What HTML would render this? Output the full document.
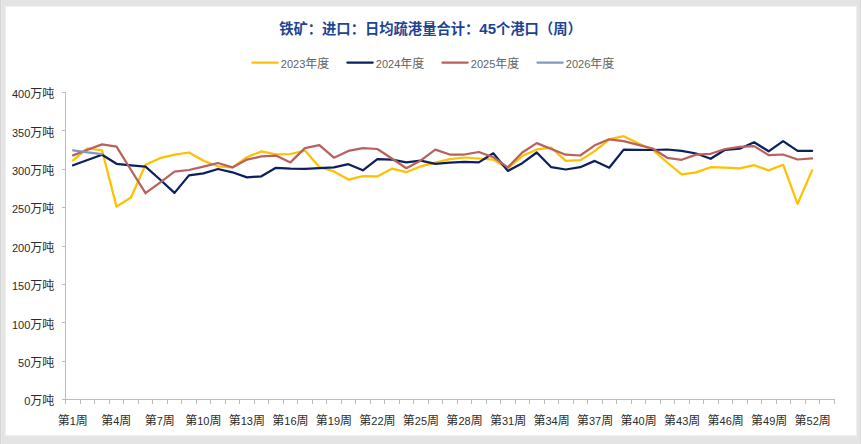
<!DOCTYPE html>
<html><head><meta charset="utf-8"><style>
html,body{margin:0;padding:0;background:#e4e4e4;}
body{width:861px;height:444px;overflow:hidden;position:relative;}
.panel{position:absolute;left:6px;top:7px;width:850px;height:428px;background:#fff;box-shadow:0 0 0 1px rgba(255,255,255,0.45);}
.el{position:absolute;left:0;top:0;width:1px;height:444px;background:#d6d6d6;}
.el2{position:absolute;left:1px;top:0;width:1px;height:444px;background:#e8e8e8;}
.er{position:absolute;left:860px;top:0;width:1px;height:444px;background:#dadada;}
svg{position:absolute;left:0;top:0;}
text{font-family:"Liberation Sans","Noto Sans CJK SC",sans-serif;font-size:10.7px;}
.d{font-size:11px;}
.c{font-size:12px;}
.t{font-size:14.3px;font-weight:bold;fill:#1c4493;}
</style></head><body>
<div class="el"></div><div class="el2"></div><div class="er"></div>
<div class="panel"></div>
<svg width="861" height="444" viewBox="0 0 861 444">
<text class="t" x="279.2" y="34.0">铁矿：进口：日均疏港量合计：<tspan style="font-size:15px">45</tspan>个港口（周）</text>
<line x1="252.4" y1="62.6" x2="277.7" y2="62.6" stroke="#FFC000" stroke-width="2.25" stroke-linecap="round"/><text x="280.8" y="67.8" fill="#636363"><tspan class="d">2023</tspan><tspan class="c">年度</tspan></text><line x1="347.4" y1="62.6" x2="372.7" y2="62.6" stroke="#0C1F5E" stroke-width="2.25" stroke-linecap="round"/><text x="375.79999999999995" y="67.8" fill="#636363"><tspan class="d">2024</tspan><tspan class="c">年度</tspan></text><line x1="442.4" y1="62.6" x2="467.7" y2="62.6" stroke="#B8615F" stroke-width="2.25" stroke-linecap="round"/><text x="470.79999999999995" y="67.8" fill="#636363"><tspan class="d">2025</tspan><tspan class="c">年度</tspan></text><line x1="537.4" y1="62.6" x2="562.6999999999999" y2="62.6" stroke="#8199C1" stroke-width="2.25" stroke-linecap="round"/><text x="565.8" y="67.8" fill="#636363"><tspan class="d">2026</tspan><tspan class="c">年度</tspan></text>
<g stroke="#bcbcbc" stroke-width="1" shape-rendering="crispEdges"><line x1="65.5" y1="92" x2="65.5" y2="400"/><line x1="65" y1="399.5" x2="835.0" y2="399.5"/><line x1="61.5" y1="399.5" x2="65.5" y2="399.5"/><line x1="61.5" y1="361.5" x2="65.5" y2="361.5"/><line x1="61.5" y1="322.5" x2="65.5" y2="322.5"/><line x1="61.5" y1="284.5" x2="65.5" y2="284.5"/><line x1="61.5" y1="246.5" x2="65.5" y2="246.5"/><line x1="61.5" y1="207.5" x2="65.5" y2="207.5"/><line x1="61.5" y1="169.5" x2="65.5" y2="169.5"/><line x1="61.5" y1="130.5" x2="65.5" y2="130.5"/><line x1="61.5" y1="92.5" x2="65.5" y2="92.5"/><line x1="65.50" y1="399.5" x2="65.50" y2="404"/><line x1="80.01" y1="399.5" x2="80.01" y2="404"/><line x1="94.52" y1="399.5" x2="94.52" y2="404"/><line x1="109.03" y1="399.5" x2="109.03" y2="404"/><line x1="123.54" y1="399.5" x2="123.54" y2="404"/><line x1="138.05" y1="399.5" x2="138.05" y2="404"/><line x1="152.56" y1="399.5" x2="152.56" y2="404"/><line x1="167.07" y1="399.5" x2="167.07" y2="404"/><line x1="181.58" y1="399.5" x2="181.58" y2="404"/><line x1="196.08" y1="399.5" x2="196.08" y2="404"/><line x1="210.59" y1="399.5" x2="210.59" y2="404"/><line x1="225.10" y1="399.5" x2="225.10" y2="404"/><line x1="239.61" y1="399.5" x2="239.61" y2="404"/><line x1="254.12" y1="399.5" x2="254.12" y2="404"/><line x1="268.63" y1="399.5" x2="268.63" y2="404"/><line x1="283.14" y1="399.5" x2="283.14" y2="404"/><line x1="297.65" y1="399.5" x2="297.65" y2="404"/><line x1="312.16" y1="399.5" x2="312.16" y2="404"/><line x1="326.67" y1="399.5" x2="326.67" y2="404"/><line x1="341.18" y1="399.5" x2="341.18" y2="404"/><line x1="355.69" y1="399.5" x2="355.69" y2="404"/><line x1="370.20" y1="399.5" x2="370.20" y2="404"/><line x1="384.71" y1="399.5" x2="384.71" y2="404"/><line x1="399.22" y1="399.5" x2="399.22" y2="404"/><line x1="413.73" y1="399.5" x2="413.73" y2="404"/><line x1="428.24" y1="399.5" x2="428.24" y2="404"/><line x1="442.75" y1="399.5" x2="442.75" y2="404"/><line x1="457.25" y1="399.5" x2="457.25" y2="404"/><line x1="471.76" y1="399.5" x2="471.76" y2="404"/><line x1="486.27" y1="399.5" x2="486.27" y2="404"/><line x1="500.78" y1="399.5" x2="500.78" y2="404"/><line x1="515.29" y1="399.5" x2="515.29" y2="404"/><line x1="529.80" y1="399.5" x2="529.80" y2="404"/><line x1="544.31" y1="399.5" x2="544.31" y2="404"/><line x1="558.82" y1="399.5" x2="558.82" y2="404"/><line x1="573.33" y1="399.5" x2="573.33" y2="404"/><line x1="587.84" y1="399.5" x2="587.84" y2="404"/><line x1="602.35" y1="399.5" x2="602.35" y2="404"/><line x1="616.86" y1="399.5" x2="616.86" y2="404"/><line x1="631.37" y1="399.5" x2="631.37" y2="404"/><line x1="645.88" y1="399.5" x2="645.88" y2="404"/><line x1="660.39" y1="399.5" x2="660.39" y2="404"/><line x1="674.90" y1="399.5" x2="674.90" y2="404"/><line x1="689.41" y1="399.5" x2="689.41" y2="404"/><line x1="703.92" y1="399.5" x2="703.92" y2="404"/><line x1="718.42" y1="399.5" x2="718.42" y2="404"/><line x1="732.93" y1="399.5" x2="732.93" y2="404"/><line x1="747.44" y1="399.5" x2="747.44" y2="404"/><line x1="761.95" y1="399.5" x2="761.95" y2="404"/><line x1="776.46" y1="399.5" x2="776.46" y2="404"/><line x1="790.97" y1="399.5" x2="790.97" y2="404"/><line x1="805.48" y1="399.5" x2="805.48" y2="404"/><line x1="819.99" y1="399.5" x2="819.99" y2="404"/><line x1="834.50" y1="399.5" x2="834.50" y2="404"/></g>
<g fill="#2b2b2b"><text x="54.3" y="405.3" text-anchor="end"><tspan class="d">0</tspan><tspan class="c">万吨</tspan></text><text x="54.3" y="366.9" text-anchor="end"><tspan class="d">50</tspan><tspan class="c">万吨</tspan></text><text x="54.3" y="328.6" text-anchor="end"><tspan class="d">100</tspan><tspan class="c">万吨</tspan></text><text x="54.3" y="290.2" text-anchor="end"><tspan class="d">150</tspan><tspan class="c">万吨</tspan></text><text x="54.3" y="251.8" text-anchor="end"><tspan class="d">200</tspan><tspan class="c">万吨</tspan></text><text x="54.3" y="213.4" text-anchor="end"><tspan class="d">250</tspan><tspan class="c">万吨</tspan></text><text x="54.3" y="175.1" text-anchor="end"><tspan class="d">300</tspan><tspan class="c">万吨</tspan></text><text x="54.3" y="136.7" text-anchor="end"><tspan class="d">350</tspan><tspan class="c">万吨</tspan></text><text x="54.3" y="98.3" text-anchor="end"><tspan class="d">400</tspan><tspan class="c">万吨</tspan></text><text x="72.75" y="425.1" text-anchor="middle"><tspan class="c">第</tspan><tspan class="d">1</tspan><tspan class="c">周</tspan></text><text x="116.28" y="425.1" text-anchor="middle"><tspan class="c">第</tspan><tspan class="d">4</tspan><tspan class="c">周</tspan></text><text x="159.81" y="425.1" text-anchor="middle"><tspan class="c">第</tspan><tspan class="d">7</tspan><tspan class="c">周</tspan></text><text x="203.34" y="425.1" text-anchor="middle"><tspan class="c">第</tspan><tspan class="d">10</tspan><tspan class="c">周</tspan></text><text x="246.87" y="425.1" text-anchor="middle"><tspan class="c">第</tspan><tspan class="d">13</tspan><tspan class="c">周</tspan></text><text x="290.40" y="425.1" text-anchor="middle"><tspan class="c">第</tspan><tspan class="d">16</tspan><tspan class="c">周</tspan></text><text x="333.92" y="425.1" text-anchor="middle"><tspan class="c">第</tspan><tspan class="d">19</tspan><tspan class="c">周</tspan></text><text x="377.45" y="425.1" text-anchor="middle"><tspan class="c">第</tspan><tspan class="d">22</tspan><tspan class="c">周</tspan></text><text x="420.98" y="425.1" text-anchor="middle"><tspan class="c">第</tspan><tspan class="d">25</tspan><tspan class="c">周</tspan></text><text x="464.51" y="425.1" text-anchor="middle"><tspan class="c">第</tspan><tspan class="d">28</tspan><tspan class="c">周</tspan></text><text x="508.04" y="425.1" text-anchor="middle"><tspan class="c">第</tspan><tspan class="d">31</tspan><tspan class="c">周</tspan></text><text x="551.57" y="425.1" text-anchor="middle"><tspan class="c">第</tspan><tspan class="d">34</tspan><tspan class="c">周</tspan></text><text x="595.09" y="425.1" text-anchor="middle"><tspan class="c">第</tspan><tspan class="d">37</tspan><tspan class="c">周</tspan></text><text x="638.62" y="425.1" text-anchor="middle"><tspan class="c">第</tspan><tspan class="d">40</tspan><tspan class="c">周</tspan></text><text x="682.15" y="425.1" text-anchor="middle"><tspan class="c">第</tspan><tspan class="d">43</tspan><tspan class="c">周</tspan></text><text x="725.68" y="425.1" text-anchor="middle"><tspan class="c">第</tspan><tspan class="d">46</tspan><tspan class="c">周</tspan></text><text x="769.21" y="425.1" text-anchor="middle"><tspan class="c">第</tspan><tspan class="d">49</tspan><tspan class="c">周</tspan></text><text x="812.74" y="425.1" text-anchor="middle"><tspan class="c">第</tspan><tspan class="d">52</tspan><tspan class="c">周</tspan></text></g>
<polyline points="73.05,160.30 87.54,148.40 102.03,150.30 116.52,206.60 131.01,197.50 145.50,164.80 160.00,158.20 174.49,154.60 188.98,152.50 203.47,160.80 217.96,166.30 232.45,167.40 246.94,157.20 261.43,151.40 275.92,154.40 290.42,154.00 304.91,150.60 319.40,167.00 333.89,171.40 348.38,179.60 362.87,176.10 377.36,176.40 391.85,168.70 406.34,172.20 420.83,166.30 435.32,162.70 449.82,159.20 464.31,157.50 478.80,158.50 493.29,159.60 507.78,168.40 522.27,156.10 536.76,149.40 551.25,147.70 565.74,160.90 580.24,160.20 594.73,151.10 609.22,139.30 623.71,136.20 638.20,143.30 652.69,150.00 667.18,162.50 681.67,174.30 696.16,172.40 710.65,167.20 725.14,167.60 739.64,168.40 754.13,165.20 768.62,170.40 783.11,164.70 797.60,203.90 812.09,170.40" fill="none" stroke="#FFC000" stroke-width="2.25" stroke-linejoin="round" stroke-linecap="round"/><polyline points="73.05,165.30 87.54,160.00 102.03,154.70 116.52,163.80 131.01,165.40 145.50,166.70 160.00,179.50 174.49,192.90 188.98,175.40 203.47,173.30 217.96,169.00 232.45,172.30 246.94,177.40 261.43,176.30 275.92,167.80 290.42,168.70 304.91,168.90 319.40,168.20 333.89,167.40 348.38,164.20 362.87,170.30 377.36,159.20 391.85,159.60 406.34,162.40 420.83,160.70 435.32,163.80 449.82,162.60 464.31,161.90 478.80,162.40 493.29,153.30 507.78,170.90 522.27,163.20 536.76,152.50 551.25,167.20 565.74,169.50 580.24,167.20 594.73,160.90 609.22,167.70 623.71,149.60 638.20,149.90 652.69,150.00 667.18,149.50 681.67,150.90 696.16,153.50 710.65,158.80 725.14,149.80 739.64,148.70 754.13,142.30 768.62,151.30 783.11,141.10 797.60,150.90 812.09,150.90" fill="none" stroke="#0C1F5E" stroke-width="2.25" stroke-linejoin="round" stroke-linecap="round"/><polyline points="73.05,155.40 87.54,149.80 102.03,144.40 116.52,146.60 131.01,170.00 145.50,193.20 160.00,182.60 174.49,171.60 188.98,170.00 203.47,166.70 217.96,163.00 232.45,167.40 246.94,159.60 261.43,156.40 275.92,155.60 290.42,162.40 304.91,148.10 319.40,145.10 333.89,157.70 348.38,150.90 362.87,148.20 377.36,149.00 391.85,158.50 406.34,168.20 420.83,160.40 435.32,149.60 449.82,154.50 464.31,154.50 478.80,152.00 493.29,157.20 507.78,167.40 522.27,152.50 536.76,143.10 551.25,149.00 565.74,154.70 580.24,155.50 594.73,145.30 609.22,139.30 623.71,141.20 638.20,144.80 652.69,148.50 667.18,157.80 681.67,159.80 696.16,154.60 710.65,153.80 725.14,149.00 739.64,146.80 754.13,146.10 768.62,155.10 783.11,154.50 797.60,159.50 812.09,158.40" fill="none" stroke="#B8615F" stroke-width="2.25" stroke-linejoin="round" stroke-linecap="round"/><polyline points="73.05,150.30 87.54,152.30 102.03,154.20" fill="none" stroke="#8199C1" stroke-width="2.25" stroke-linejoin="round" stroke-linecap="round"/>
</svg>
</body></html>
